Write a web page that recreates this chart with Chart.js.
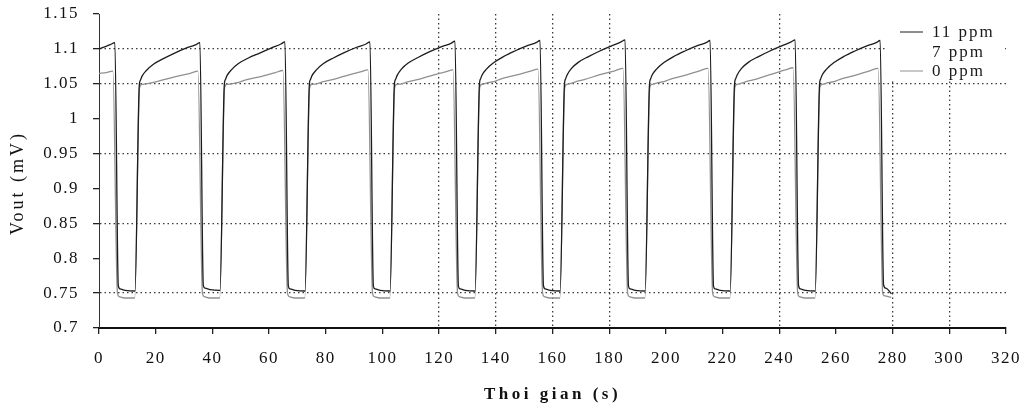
<!DOCTYPE html>
<html>
<head>
<meta charset="utf-8">
<script src="https://cdn.jsdelivr.net/npm/chart.js@4/dist/chart.umd.min.js"></script>
<style>
  body { margin: 0; background: #fff; }
</style>
</head>
<body>
<canvas id="graficoVout" width="1028" height="407"></canvas>
<script>
// Series: [tiempo (s), Vout (mV)]
const etiquetas = ['11 ppm', '7 ppm', '0 ppm'];

const ppm11 = [
  [0, 1.100], [2, 1.103], [4, 1.106], [5.6, 1.109],
  [6.8, 0.761], [7.4, 0.756], [9.2, 0.754], [12.7, 0.753],
  [14.2, 1.047], [14.6, 1.055], [15.2, 1.061], [16.7, 1.069], [19.2, 1.078], [22.7, 1.086], [26.7, 1.094], [30.7, 1.101], [34.2, 1.106], [35.6, 1.109],
  [36.8, 0.761], [37.4, 0.757], [39.2, 0.755], [42.7, 0.754],
  [44.2, 1.048], [44.6, 1.056], [45.2, 1.062], [46.7, 1.070], [49.2, 1.079], [52.7, 1.087], [56.7, 1.094], [60.7, 1.101], [64.2, 1.107], [65.6, 1.110],
  [66.8, 0.760], [67.4, 0.756], [69.2, 0.754], [72.7, 0.753],
  [74.2, 1.048], [74.6, 1.056], [75.2, 1.062], [76.7, 1.070], [79.2, 1.079], [82.7, 1.087], [86.7, 1.095], [90.7, 1.102], [94.2, 1.107], [95.6, 1.110],
  [96.8, 0.760], [97.4, 0.756], [99.2, 0.754], [102.7, 0.753],
  [104.2, 1.048], [104.6, 1.056], [105.2, 1.062], [106.7, 1.071], [109.2, 1.080], [112.7, 1.088], [116.7, 1.096], [120.7, 1.103], [124.2, 1.108], [125.6, 1.111],
  [126.8, 0.760], [127.4, 0.756], [129.2, 0.754], [132.7, 0.753],
  [134.2, 1.048], [134.6, 1.057], [135.2, 1.063], [136.7, 1.071], [139.2, 1.080], [142.7, 1.089], [146.7, 1.097], [150.7, 1.104], [154.2, 1.109], [155.6, 1.112],
  [156.8, 0.761], [157.4, 0.756], [159.2, 0.754], [162.7, 0.753],
  [164.2, 1.048], [164.6, 1.057], [165.2, 1.063], [166.7, 1.072], [169.2, 1.081], [172.7, 1.089], [176.7, 1.097], [180.7, 1.104], [184.2, 1.110], [185.6, 1.113],
  [186.8, 0.760], [187.4, 0.756], [189.2, 0.754], [192.7, 0.753],
  [194.2, 1.048], [194.6, 1.057], [195.2, 1.063], [196.7, 1.071], [199.2, 1.080], [202.7, 1.089], [206.7, 1.097], [210.7, 1.104], [214.2, 1.109], [215.6, 1.112],
  [216.8, 0.760], [217.4, 0.756], [219.2, 0.754], [222.7, 0.753],
  [224.2, 1.048], [224.6, 1.057], [225.2, 1.063], [226.7, 1.072], [229.2, 1.081], [232.7, 1.089], [236.7, 1.097], [240.7, 1.104], [244.2, 1.110], [245.6, 1.113],
  [246.8, 0.761], [247.4, 0.756], [249.2, 0.754], [252.7, 0.753],
  [254.2, 1.048], [254.6, 1.057], [255.2, 1.063], [256.7, 1.071], [259.2, 1.080], [262.7, 1.089], [266.7, 1.097], [270.7, 1.104], [274.2, 1.109], [275.6, 1.112],
  [276.8, 0.762], [277.6, 0.757], [279.6, 0.749]
];

const ppm7 = [];

const ppm0 = [
  [0, 1.065], [2.5, 1.066], [4.9, 1.068],
  [6.5, 0.750], [7.1, 0.745], [9.0, 0.743], [12.6, 0.743],
  [14.3, 1.044], [15.0, 1.049], [16.7, 1.050], [19.2, 1.052], [21.2, 1.054], [26.7, 1.060], [32.2, 1.065], [34.9, 1.068],
  [36.5, 0.750], [37.1, 0.745], [39.0, 0.743], [42.6, 0.743],
  [44.3, 1.044], [45.0, 1.049], [46.7, 1.050], [49.2, 1.052], [51.2, 1.055], [56.7, 1.060], [62.2, 1.066], [64.9, 1.069],
  [66.5, 0.750], [67.1, 0.745], [69.0, 0.743], [72.6, 0.743],
  [74.3, 1.044], [75.0, 1.049], [76.7, 1.050], [79.2, 1.053], [81.2, 1.055], [86.7, 1.061], [92.2, 1.067], [94.9, 1.070],
  [96.5, 0.750], [97.1, 0.745], [99.0, 0.743], [102.6, 0.743],
  [104.3, 1.044], [105.0, 1.049], [106.7, 1.050], [109.2, 1.053], [111.2, 1.055], [116.7, 1.061], [122.2, 1.067], [124.9, 1.070],
  [126.5, 0.750], [127.1, 0.745], [129.0, 0.743], [132.6, 0.743],
  [134.3, 1.044], [135.0, 1.049], [136.7, 1.051], [139.2, 1.053], [141.2, 1.056], [146.7, 1.062], [152.2, 1.068], [154.9, 1.071],
  [156.5, 0.750], [157.1, 0.745], [159.0, 0.743], [162.6, 0.743],
  [164.3, 1.044], [165.0, 1.049], [166.7, 1.051], [169.2, 1.054], [171.2, 1.056], [176.7, 1.063], [182.2, 1.069], [184.9, 1.072],
  [186.5, 0.750], [187.1, 0.745], [189.0, 0.743], [192.6, 0.743],
  [194.3, 1.044], [195.0, 1.049], [196.7, 1.051], [199.2, 1.053], [201.2, 1.056], [206.7, 1.062], [212.2, 1.069], [214.9, 1.072],
  [216.5, 0.750], [217.1, 0.745], [219.0, 0.743], [222.6, 0.743],
  [224.3, 1.044], [225.0, 1.049], [226.7, 1.051], [229.2, 1.054], [231.2, 1.056], [236.7, 1.063], [242.2, 1.070], [244.9, 1.073],
  [246.5, 0.750], [247.1, 0.745], [249.0, 0.743], [252.6, 0.743],
  [254.3, 1.044], [255.0, 1.049], [256.7, 1.051], [259.2, 1.053], [261.2, 1.056], [266.7, 1.062], [272.2, 1.069], [274.9, 1.072],
  [276.5, 0.750], [277.2, 0.746], [279.5, 0.744]
];

// lineas punteadas de la cuadricula
const yGrid = [0.75, 0.85, 0.95, 1.05, 1.1];
const xGrid = [120, 140, 160, 180, 240, 280, 300];

const fuente = 'Liberation Serif';
const enLista = (lista, v) => lista.some(g => Math.abs(g - v) < 1e-6);
const aPuntos = serie => serie.map(([x, y]) => ({ x, y }));

// espaciado de letras para todo el texto del canvas
const espaciado = {
  id: 'espaciado',
  beforeLayout(chart) { chart.ctx.letterSpacing = '1.5px'; },
  beforeDraw(chart) { chart.ctx.letterSpacing = '1.5px'; }
};

// leyenda dentro del area y titulos de los ejes
const textos = {
  id: 'textos',
  afterDraw(chart) {
    const { ctx, chartArea } = chart;
    ctx.save();
    ctx.fillStyle = '#fff';
    ctx.fillRect(886, chartArea.top - 2, 119, 82 - chartArea.top);
    ctx.font = '17px "' + fuente + '"';
    ctx.letterSpacing = '2px';
    ctx.textBaseline = 'middle';
    ctx.textAlign = 'left';
    chart.data.datasets.forEach((ds, i) => {
      const y = 33 + i * 19.5;
      ctx.strokeStyle = ds.borderColor;
      ctx.lineWidth = 1;
      ctx.beginPath();
      ctx.moveTo(900, y - 1);
      ctx.lineTo(923, y - 1);
      ctx.stroke();
      ctx.fillStyle = '#1a1a1a';
      ctx.fillText(ds.label, 932, y);
    });

    ctx.fillStyle = '#111';
    ctx.textAlign = 'center';
    ctx.font = 'bold 17px "' + fuente + '"';
    ctx.letterSpacing = '3.5px';
    ctx.fillText('Thoi gian (s)', (chartArea.left + chartArea.right) / 2, 395);

    ctx.font = '18px "' + fuente + '"';
    ctx.letterSpacing = '3px';
    ctx.translate(18, 183);
    ctx.rotate(-Math.PI / 2);
    ctx.fillText('Vout (mV)', 0, 0);
    ctx.restore();
  }
};

new Chart(document.getElementById('graficoVout'), {
  type: 'line',
  data: {
    datasets: [
      { label: etiquetas[0], data: aPuntos(ppm11), borderColor: '#1c1c1c', borderWidth: 1.3 },
      { label: etiquetas[1], data: aPuntos(ppm7), borderColor: '#ffffff', borderWidth: 1.3 },
      { label: etiquetas[2], data: aPuntos(ppm0), borderColor: '#909090', borderWidth: 1.3 }
    ]
  },
  options: {
    responsive: false,
    animation: false,
    datasets: {
      line: { pointRadius: 0, fill: false, cubicInterpolationMode: 'monotone' }
    },
    layout: { autoPadding: false, padding: { top: 14, right: 22, left: 0, bottom: 0 } },
    plugins: {
      legend: { display: false },
      tooltip: { enabled: false }
    },
    scales: {
      x: {
        type: 'linear',
        min: 0,
        max: 320,
        ticks: {
          stepSize: 20,
          autoSkip: false,
          maxRotation: 0,
          padding: 14,
          color: '#111',
          font: { family: fuente, size: 17 }
        },
        grid: {
          color: c => (c.tick && enLista(xGrid, c.tick.value)) ? '#3a3a3a' : 'rgba(0,0,0,0)',
          lineWidth: 1.3,
          tickLength: 6,
          tickColor: '#222'
        },
        border: { color: '#111', width: 2, dash: [1.5, 3] },
        afterFit: s => {
          s.height = 79;
          s.paddingLeft = 0;
          s.paddingRight = 0;
        }
      },
      y: {
        min: 0.7,
        max: 1.15,
        ticks: {
          stepSize: 0.05,
          padding: 14,
          color: '#111',
          font: { family: fuente, size: 17 },
          callback: v => String(+v.toFixed(2))
        },
        grid: {
          color: c => (c.tick && enLista(yGrid, c.tick.value)) ? '#3a3a3a' : 'rgba(0,0,0,0)',
          lineWidth: 1.3,
          tickLength: 6,
          tickColor: '#222'
        },
        border: { color: '#333', width: 1, dash: [1.5, 3] },
        afterFit: s => {
          s.width = 99;
          s.paddingTop = 0;
          s.paddingBottom = 0;
        }
      }
    }
  },
  plugins: [espaciado, textos]
});
</script>
</body>
</html>
